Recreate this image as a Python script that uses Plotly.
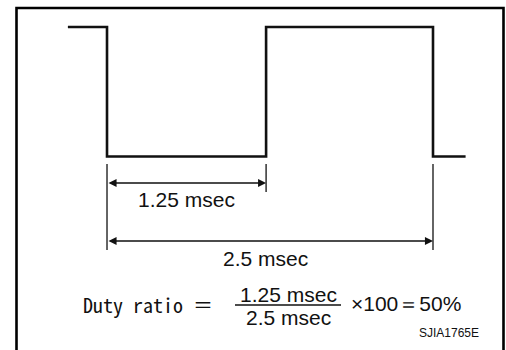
"""
Duty ratio diagram: square wave with period / on-time dimensions.
"""

import plotly.graph_objects as go

W, H = 506, 350

# waveform (time in msec, level 1 = high, 0 = low), drawn with hv steps
wave_t = [-0.3, 0.0, 1.22, 2.5, 2.75]
wave_level = [1, 0, 1, 0, 0]

# dimension values (msec)
low_time = 1.25
period = 2.5
low_edges = [0.0, 1.22]
period_edges = [0.0, 2.5]

duty = low_time / period * 100

INK = "#111111"
SANS = "Liberation Sans, Arial, sans-serif"
MONO = "Noto Sans Mono CJK JP, DejaVu Sans Mono, monospace"


def py(px):
    """pixel row -> paper y"""
    return 1 - px / H


def pxx(px):
    """pixel column -> paper x"""
    return px / W


def label(text, x, y, size=21, family=SANS, xanchor="center", xref="paper"):
    fig.add_annotation(
        x=x, y=py(y), xref=xref, yref="paper",
        xanchor=xanchor, yanchor="middle",
        text=text, showarrow=False,
        font=dict(family=family, size=size, color=INK),
    )


fig = go.Figure()
fig.add_trace(
    go.Scatter(
        x=wave_t,
        y=wave_level,
        mode="lines",
        line=dict(color=INK, width=2.6, shape="hv"),
        hoverinfo="skip",
    )
)

# extension lines under the edges
for t, bottom in [(low_edges[0], 250), (low_edges[1], 192), (period_edges[1], 250)]:
    fig.add_shape(
        type="line", xref="x", yref="paper",
        x0=t, x1=t, y0=py(164), y1=py(bottom),
        line=dict(color=INK, width=1.3),
    )

# dimension arrows
for (t0, t1), row in [(low_edges, 183), (period_edges, 241)]:
    fig.add_annotation(
        x=t1, y=py(row), xref="x", yref="paper",
        ax=t0, ay=0, axref="x", ayref="pixel",
        text="", showarrow=True,
        arrowside="end+start", arrowhead=2, startarrowhead=2,
        arrowsize=1.15, startarrowsize=1.15, arrowwidth=1.4,
        arrowcolor=INK, standoff=0, startstandoff=0,
    )

label(f"{low_time} msec", sum(low_edges) / 2, 199, xref="x")
label(f"{period} msec", pxx(265), 258)

# formula
label("Duty ratio ＝", pxx(81), 304, size=20, family=MONO, xanchor="left")
label(f"{low_time} msec", pxx(288), 294)
fig.add_shape(
    type="line", xref="paper", yref="paper",
    x0=pxx(235), x1=pxx(341), y0=py(305), y1=py(305),
    line=dict(color=INK, width=1.4),
)
label(f"{period} msec", pxx(288), 317)
label(f"×100＝{duty:.0f}%", pxx(349), 303, xanchor="left")
label("SJIA1765E", pxx(481), 333, size=12, xanchor="right")

# frame (open at the bottom edge of the picture)
fig.add_shape(
    type="rect", xref="paper", yref="paper",
    x0=pxx(16.5), x1=pxx(503.5), y0=py(8), y1=py(370),
    line=dict(color="#000000", width=2.6),
)

fig.update_layout(
    width=W,
    height=H,
    margin=dict(l=0, r=0, t=0, b=0),
    paper_bgcolor="white",
    plot_bgcolor="white",
    showlegend=False,
    xaxis=dict(range=[-0.8206, 3.0598], visible=False, fixedrange=True),
    yaxis=dict(range=[-1.4942, 1.2085], visible=False, fixedrange=True),
)

fig.write_html(
    "out.html",
    config=dict(displayModeBar=False),
    post_script="document.body.style.margin='0';document.body.style.overflow='hidden';",
)
